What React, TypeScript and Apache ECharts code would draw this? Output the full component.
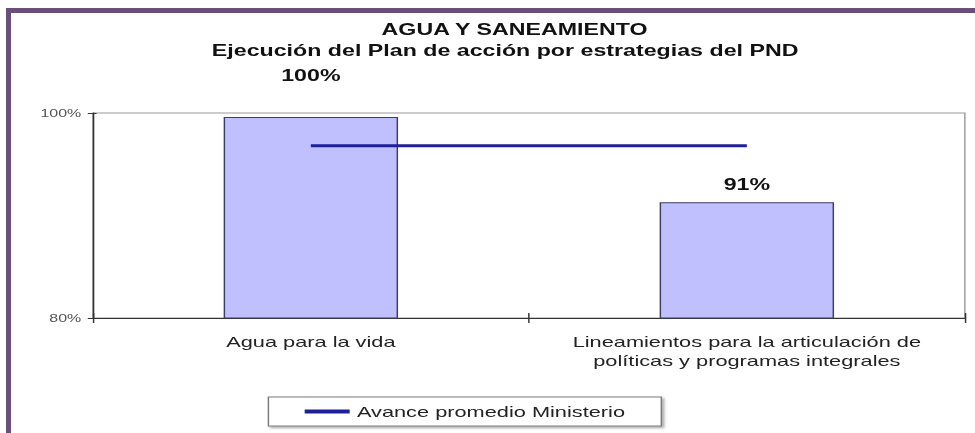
import React, { useEffect, useRef } from "react";
import * as echarts from "echarts";

// ---- data ----
const categories = [
  "Agua para la vida",
  "Lineamientos para la articulación de\npolíticas y programas integrales",
];
const ejecucion = [99.6, 91.3];
const promedioMinisterio = [96.8, 96.8];
const yMin = 80;
const yMax = 100;
const yInterval = 20;

const titleText = "AGUA Y SANEAMIENTO";
const subtitleText = "Ejecución del Plan de acción por estrategias del PND";
const legendName = "Avance promedio Ministerio";

// ---- layout (the reference is horizontally stretched) ----
const OUT_W = 975;
const OUT_H = 433;
const IN_W = 672;
const SX = OUT_W / IN_W;
const FONT = "'Liberation Sans', Arial, sans-serif";
const labelDistances = [34, 10];

export default function App() {
  const ref = useRef<HTMLDivElement>(null);

  useEffect(() => {
    if (!ref.current) return;
    const chart = echarts.init(ref.current, undefined, { renderer: "svg" });
    const tickColor = "#333";
    const option: any = {
      animation: false,
      backgroundColor: "#fff",
      title: [
        {
          text: titleText,
          left: 263,
          top: 21,
          padding: 0,
          textStyle: { fontFamily: FONT, fontSize: 16, fontWeight: "bold", color: "#111" },
        },
        {
          text: subtitleText,
          left: 146,
          top: 42,
          padding: 0,
          textStyle: { fontFamily: FONT, fontSize: 16, fontWeight: "bold", color: "#111" },
        },
      ],
      grid: {
        left: 64,
        right: 7,
        top: 113,
        bottom: 115,
        show: true,
        borderColor: "#9a9a9a",
        borderWidth: 1,
        backgroundColor: "transparent",
      },
      legend: {
        data: [legendName],
        left: 185,
        top: 397,
        icon: "rect",
        itemWidth: 31,
        itemHeight: 4,
        padding: [7, 25, 7, 25],
        borderColor: "#7a7a7a",
        borderWidth: 1,
        backgroundColor: "#fff",
        shadowColor: "rgba(0,0,0,0.35)",
        shadowBlur: 2,
        shadowOffsetX: 1.5,
        shadowOffsetY: 1.5,
        textStyle: { fontFamily: FONT, fontSize: 15, color: "#222" },
      },
      xAxis: [
        {
          type: "category",
          data: categories,
          axisLine: { show: true, lineStyle: { color: tickColor, width: 1 } },
          axisTick: { show: true, length: 5, lineStyle: { color: tickColor } },
          axisLabel: {
            interval: 0,
            margin: 14,
            fontFamily: FONT,
            fontSize: 15,
            lineHeight: 19,
            color: "#222",
          },
          splitLine: { show: false },
        },
        {
          type: "category",
          data: categories,
          position: "bottom",
          axisLine: { show: false },
          axisTick: { show: true, inside: true, length: 5, lineStyle: { color: tickColor } },
          axisLabel: { show: false },
          splitLine: { show: false },
        },
      ],
      yAxis: [
        {
          type: "value",
          min: yMin,
          max: yMax,
          interval: yInterval,
          axisLine: { show: true, lineStyle: { color: tickColor, width: 1 } },
          axisTick: { show: true, length: 3.5, lineStyle: { color: tickColor } },
          axisLabel: {
            formatter: "{value}%",
            fontFamily: FONT,
            fontSize: 11,
            color: "#555",
            margin: 8,
          },
          splitLine: { show: false },
        },
        {
          type: "value",
          min: yMin,
          max: yMax,
          interval: yInterval,
          position: "left",
          axisLine: { show: false },
          axisTick: { show: true, inside: true, length: 2.5, lineStyle: { color: tickColor } },
          axisLabel: { show: false },
          splitLine: { show: false },
        },
      ],
      series: [
        {
          type: "bar",
          name: "Ejecución",
          xAxisIndex: 0,
          yAxisIndex: 0,
          barWidth: "40%",
          data: ejecucion.map((v, i) => ({ value: v, label: { distance: labelDistances[i] } })),
          itemStyle: { color: "#c0c0ff", borderColor: "#3c3c66", borderWidth: 1 },
          label: {
            show: true,
            position: "top",
            formatter: (p: any) => Math.round(p.value) + "%",
            fontFamily: FONT,
            fontSize: 16,
            fontWeight: "bold",
            color: "#111",
          },
        },
        {
          type: "line",
          name: legendName,
          xAxisIndex: 0,
          yAxisIndex: 0,
          data: promedioMinisterio,
          symbol: "none",
          lineStyle: { color: "#1f1f99", width: 3 },
          itemStyle: { color: "#1f1f99" },
          z: 5,
        },
      ],
    };
    chart.setOption(option);
    return () => chart.dispose();
  }, []);

  return (
    <div
      style={{
        position: "fixed",
        left: 0,
        top: 0,
        width: OUT_W,
        height: OUT_H,
        background: "#fff",
        overflow: "hidden",
      }}
    >
      <div
        ref={ref}
        style={{
          position: "absolute",
          left: 0,
          top: 0,
          width: IN_W,
          height: OUT_H,
          transform: `scaleX(${SX})`,
          transformOrigin: "0 0",
        }}
      />
      <div
        style={{ position: "absolute", left: 6, top: 8, width: OUT_W - 6, height: 5, background: "#6b4f7b" }}
      />
      <div
        style={{ position: "absolute", left: 6, top: 8, width: 5, height: OUT_H - 8, background: "#6b4f7b" }}
      />
    </div>
  );
}
